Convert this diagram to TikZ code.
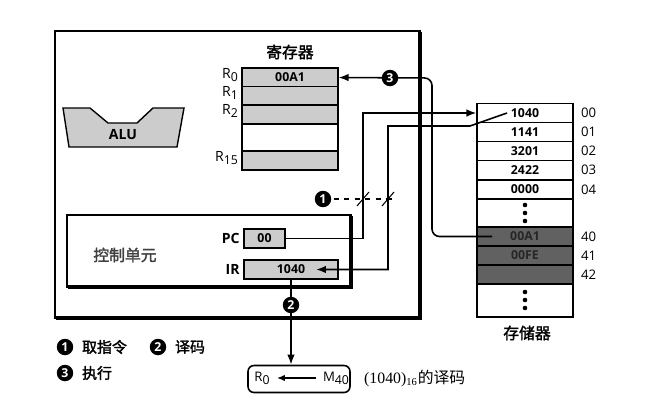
\documentclass[tikz,border=0pt]{standalone}
\usepackage{fontspec}
\setmainfont{Liberation Serif}
\setsansfont{Open Sans}
\newfontfamily\cjk[AutoFakeBold=2]{Noto Sans CJK SC}
\usetikzlibrary{arrows.meta}

\newcommand{\lowsub}[1]{\raisebox{-0.45ex}{\fontsize{7}{7}\selectfont#1}}

\tikzset{
  reg/.style={draw, line width=0.6pt, fill=gray!40, minimum width=1.92cm, minimum height=0.38cm,
    inner sep=0pt, font=\sffamily\bfseries\fontsize{7}{8}\selectfont},
  memcell/.style={draw, line width=0.6pt, fill=white, minimum width=1.92cm, minimum height=0.38cm,
    inner sep=0pt, font=\sffamily\bfseries\fontsize{7}{8}\selectfont},
  darkcell/.style={memcell, fill=black!62, text=black!85},
  badge/.style={circle, fill=black, text=white, inner sep=0pt, minimum size=0.33cm,
    font=\sffamily\bfseries\fontsize{7}{7}\selectfont},
  arr/.style={-{Latex[length=2mm,width=1.5mm]}, line width=0.9pt},
  lbl/.style={font=\sffamily\fontsize{7.5}{8}\selectfont, inner sep=1pt},
  reglbl/.style={font=\sffamily\fontsize{8}{9}\selectfont, inner sep=1pt, anchor=east},
  cjklbl/.style={font=\cjk\bfseries\fontsize{9}{10}\selectfont, inner sep=1pt},
  legendtxt/.style={font=\cjk\bfseries\fontsize{8.5}{9}\selectfont, inner sep=1pt, anchor=west},
}

\begin{document}
\begin{tikzpicture}[x=0.02cm, y=-0.02cm]
\useasboundingbox (0,0) rectangle (650,409);

% CPU
\draw[line width=0.6pt] (55,31) rectangle (420,318);
\draw[line width=2.2pt] (420,32) -- (420,318) -- (56,318);

% ALU
\draw[fill=gray!40, line width=0.8pt] (63,108) -- (90,108) -- (108,123) -- (137,123) -- (153,108)
  -- (184,108) -- (177,147) -- (69,147) -- cycle;
\node[font=\sffamily\bfseries\fontsize{8}{9}\selectfont] (alu) at (123,135) {ALU};

% registers
\node[cjklbl] (regtitle) at (290,52) {寄存器};
\node[reg] (r0) at (290,77.5) {00A1};
\node[reg] (r1) at (290,96) {};
\node[reg] (r2) at (290,114.5) {};
\node[reg, fill=white, minimum height=0.54cm] (rgap) at (290,137.5) {};
\node[reg] (r15) at (290,160.5) {};
\node[reglbl] (lr0) at (240,75) {R\lowsub{0}};
\node[reglbl] (lr1) at (240,93) {R\lowsub{1}};
\node[reglbl] (lr2) at (240,111) {R\lowsub{2}};
\node[reglbl] (lr15) at (240,158) {R\lowsub{15}};

% control unit
\draw[line width=0.6pt] (67,215) rectangle (351,287);
\draw[line width=2.2pt] (351,216) -- (351,287) -- (68,287);
\node[cjklbl, text=black!75] (cu) at (125,255) {控制单元};
\node[reg, minimum width=0.82cm] (pc) at (264.5,238.5) {00};
\node[font=\sffamily\bfseries\fontsize{8}{9}\selectfont, anchor=east, inner sep=2pt] (pclbl) at (pc.west) {PC};
\node[reg, minimum width=1.88cm] (ir) at (291,269.5) {1040};
\node[font=\sffamily\bfseries\fontsize{8}{9}\selectfont, anchor=east, inner sep=2pt] (irlbl) at (ir.west) {IR};

% memory
\node[memcell] (m00) at (525,113) {1040};
\node[memcell] (m01) at (525,132) {1141};
\node[memcell] (m02) at (525,151) {3201};
\node[memcell] (m03) at (525,170) {2422};
\node[memcell] (m04) at (525,189.5) {0000};
\node[memcell, minimum height=0.56cm] (mgap) at (525,213) {};
\node[darkcell] (m40) at (525,236.5) {00A1};
\node[darkcell] (m41) at (525,255.5) {00FE};
\node[darkcell] (m42) at (525,274.5) {};
\node[memcell, minimum height=0.66cm] (mend) at (525,300.5) {};
\foreach \y in {205,213,221,292,300,308}
  \fill (525,\y) circle (1.3pt);
\node[lbl, anchor=west] (a00) at (579,113) {00};
\node[lbl, anchor=west] (a01) at (579,132) {01};
\node[lbl, anchor=west] (a02) at (579,151) {02};
\node[lbl, anchor=west] (a03) at (579,170) {03};
\node[lbl, anchor=west] (a04) at (579,189.5) {04};
\node[lbl, anchor=west] (a40) at (579,236.5) {40};
\node[lbl, anchor=west] (a41) at (579,255.5) {41};
\node[lbl, anchor=west] (a42) at (579,274.5) {42};
\node[cjklbl] (memtitle) at (527,333) {存储器};

% connectors
\coordinate (pcturn) at (363,113);
\draw[arr] (pc.east) -| (pcturn) -- (m00.west);

\coordinate (irsrc) at (507,113);
\coordinate (irkink) at (470,126);
\coordinate (irturn) at (388,126);
\coordinate (irin) at (316,269.5);
\draw[arr] (irsrc) -- (irkink) -- (irturn) |- (irin);

\coordinate (m40src) at (492,236.5);
\coordinate (exturn) at (432,78);
\draw[arr, rounded corners=0.15cm] (m40src) -| (exturn) -- (r0.east);

% fetch marker
\coordinate (dashend) at (396,199);
\draw[dashed, line width=0.6pt] (323,199) -- (dashend);
\draw[line width=0.6pt] (357,206) -- (369,192);
\draw[line width=0.6pt] (382,206) -- (394,192);

% decode result
\node[draw, line width=0.9pt, rounded corners=0.12cm, minimum width=2.04cm, minimum height=0.54cm] (res) at (299,379) {};
\node[lbl] (resr) at (262,378) {R\lowsub{0}};
\node[lbl] (resm) at (336,378) {M\lowsub{40}};
\draw[-{Latex[length=1.6mm,width=1.3mm]}, line width=0.8pt, shorten >=3pt, shorten <=3pt] (resm.west) -- (resr.east);
\node[anchor=west, font=\fontsize{9}{10}\selectfont] (rescap) at (358,379) {(1040)\textsubscript{16}{\cjk 的译码}};
\draw[arr] (ir.south) -- (ir.south |- res.north);

% step markers
\node[badge] (b1) at (323,199) {1};
\node[badge] (b2) at (291,305) {2};
\node[badge] (b3) at (390,78) {3};

% legend
\node[badge] (lg1) at (65,347) {1};
\node[legendtxt] (lt1) at (80,347) {取指令};
\node[badge] (lg2) at (158,347) {2};
\node[legendtxt] (lt2) at (173,347) {译码};
\node[badge] (lg3) at (65,373) {3};
\node[legendtxt] (lt3) at (80,373) {执行};
\end{tikzpicture}
\end{document}
